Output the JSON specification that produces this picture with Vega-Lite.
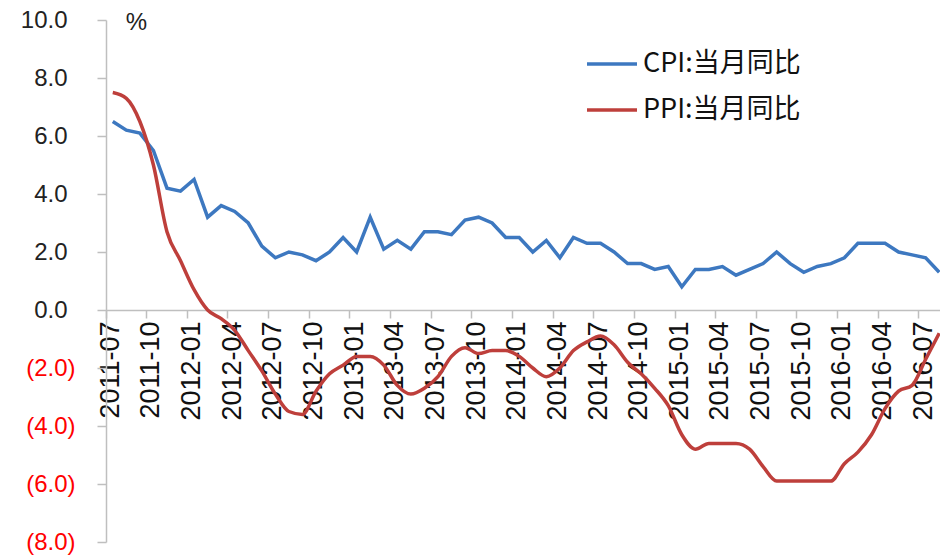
{
  "$schema": "https://vega.github.io/schema/vega-lite/v6.json",
  "autosize": {"type": "none"},
  "padding": {"left": 106, "top": 20, "right": 0, "bottom": 17},
  "width": 834,
  "height": 522,
  "background": "white",
  "config": {"view": {"stroke": null}, "axis": {"grid": false}},
  "data": {"values": [
    {"m":"2011-07","cpi":6.5,"ppi":7.5},{"m":"2011-08","cpi":6.2,"ppi":7.3},{"m":"2011-09","cpi":6.1,"ppi":6.5},{"m":"2011-10","cpi":5.5,"ppi":5.0},{"m":"2011-11","cpi":4.2,"ppi":2.7},{"m":"2011-12","cpi":4.1,"ppi":1.7},
    {"m":"2012-01","cpi":4.5,"ppi":0.7},{"m":"2012-02","cpi":3.2,"ppi":0.0},{"m":"2012-03","cpi":3.6,"ppi":-0.3},{"m":"2012-04","cpi":3.4,"ppi":-0.7},{"m":"2012-05","cpi":3.0,"ppi":-1.4},{"m":"2012-06","cpi":2.2,"ppi":-2.1},
    {"m":"2012-07","cpi":1.8,"ppi":-2.9},{"m":"2012-08","cpi":2.0,"ppi":-3.5},{"m":"2012-09","cpi":1.9,"ppi":-3.6},{"m":"2012-10","cpi":1.7,"ppi":-2.8},{"m":"2012-11","cpi":2.0,"ppi":-2.2},{"m":"2012-12","cpi":2.5,"ppi":-1.9},
    {"m":"2013-01","cpi":2.0,"ppi":-1.6},{"m":"2013-02","cpi":3.2,"ppi":-1.6},{"m":"2013-03","cpi":2.1,"ppi":-1.9},{"m":"2013-04","cpi":2.4,"ppi":-2.6},{"m":"2013-05","cpi":2.1,"ppi":-2.9},{"m":"2013-06","cpi":2.7,"ppi":-2.7},
    {"m":"2013-07","cpi":2.7,"ppi":-2.3},{"m":"2013-08","cpi":2.6,"ppi":-1.6},{"m":"2013-09","cpi":3.1,"ppi":-1.3},{"m":"2013-10","cpi":3.2,"ppi":-1.5},{"m":"2013-11","cpi":3.0,"ppi":-1.4},{"m":"2013-12","cpi":2.5,"ppi":-1.4},
    {"m":"2014-01","cpi":2.5,"ppi":-1.6},{"m":"2014-02","cpi":2.0,"ppi":-2.0},{"m":"2014-03","cpi":2.4,"ppi":-2.3},{"m":"2014-04","cpi":1.8,"ppi":-2.0},{"m":"2014-05","cpi":2.5,"ppi":-1.4},{"m":"2014-06","cpi":2.3,"ppi":-1.1},
    {"m":"2014-07","cpi":2.3,"ppi":-0.9},{"m":"2014-08","cpi":2.0,"ppi":-1.2},{"m":"2014-09","cpi":1.6,"ppi":-1.8},{"m":"2014-10","cpi":1.6,"ppi":-2.2},{"m":"2014-11","cpi":1.4,"ppi":-2.7},{"m":"2014-12","cpi":1.5,"ppi":-3.3},
    {"m":"2015-01","cpi":0.8,"ppi":-4.3},{"m":"2015-02","cpi":1.4,"ppi":-4.8},{"m":"2015-03","cpi":1.4,"ppi":-4.6},{"m":"2015-04","cpi":1.5,"ppi":-4.6},{"m":"2015-05","cpi":1.2,"ppi":-4.6},{"m":"2015-06","cpi":1.4,"ppi":-4.8},
    {"m":"2015-07","cpi":1.6,"ppi":-5.4},{"m":"2015-08","cpi":2.0,"ppi":-5.9},{"m":"2015-09","cpi":1.6,"ppi":-5.9},{"m":"2015-10","cpi":1.3,"ppi":-5.9},{"m":"2015-11","cpi":1.5,"ppi":-5.9},{"m":"2015-12","cpi":1.6,"ppi":-5.9},
    {"m":"2016-01","cpi":1.8,"ppi":-5.3},{"m":"2016-02","cpi":2.3,"ppi":-4.9},{"m":"2016-03","cpi":2.3,"ppi":-4.3},{"m":"2016-04","cpi":2.3,"ppi":-3.4},{"m":"2016-05","cpi":2.0,"ppi":-2.8},{"m":"2016-06","cpi":1.9,"ppi":-2.6},
    {"m":"2016-07","cpi":1.8,"ppi":-1.7},{"m":"2016-08","cpi":1.3,"ppi":-0.8}
  ]},
  "transform": [
    {"fold": ["cpi", "ppi"], "as": ["key", "v"]},
    {"lookup": "key", "from": {"data": {"values": [{"key": "cpi", "s": "CPI:当月同比"}, {"key": "ppi", "s": "PPI:当月同比"}]}, "key": "key", "fields": ["s"]}}
  ],
  "encoding": {
    "x": {
      "field": "m", "type": "ordinal", "sort": null,
      "scale": {"type": "band", "paddingInner": 0, "paddingOuter": 0, "range": [0, 840]},
      "axis": {
        "orient": "bottom", "offset": -232, "title": null,
        "values": ["2011-07","2011-10","2012-01","2012-04","2012-07","2012-10","2013-01","2013-04","2013-07","2013-10","2014-01","2014-04","2014-07","2014-10","2015-01","2015-04","2015-07","2015-10","2016-01","2016-04","2016-07"],
        "bandPosition": 0, "tickSize": 8, "tickColor": "#bfbfbf", "tickWidth": 1.5,
        "domainColor": "#bfbfbf", "domainWidth": 1.5,
        "labelAngle": -90, "labelPadding": 3, "labelOffset": -2, "labelFont": "Liberation Sans", "labelFontSize": 27,
        "labelColor": "#111111", "labelOverlap": false, "labelBound": false, "labelFlush": false
      }
    },
    "y": {
      "field": "v", "type": "quantitative",
      "scale": {"domain": [-8, 10], "nice": false, "zero": false},
      "axis": {
        "values": [-8, -6, -4, -2, 0, 2, 4, 6, 8, 10],
        "tickSize": 9, "tickColor": "#bfbfbf", "tickWidth": 1.5,
        "domainColor": "#bfbfbf", "domainWidth": 1.5,
        "labelPadding": {"condition": {"test": "datum.value < 0", "value": 22}, "value": 30},
        "labelFont": "Liberation Sans", "labelFontSize": 24,
        "labelExpr": "datum.value < 0 ? '(' + format(-datum.value, '.1f') + ')' : format(datum.value, '.1f')",
        "labelColor": {"condition": {"test": "datum.value < 0", "value": "#ff0000"}, "value": "#222222"},
        "title": "%", "titleAngle": 0, "titleX": 30, "titleY": 2, "titleAlign": "center", "titleBaseline": "middle",
        "titleFont": "Liberation Sans", "titleFontSize": 24, "titleFontWeight": "normal", "titleColor": "#222222"
      }
    },
    "color": {
      "field": "s", "type": "nominal",
      "scale": {"domain": ["CPI:当月同比", "PPI:当月同比"], "range": ["#3D78C0", "#BE3F3B"]},
      "legend": {
        "orient": "none", "legendX": 479, "legendY": 17, "direction": "vertical", "title": null,
        "symbolType": "stroke", "symbolSize": 2500, "symbolStrokeWidth": 3.5,
        "labelFont": "Noto Sans CJK SC", "labelFontSize": 27, "labelColor": "#111111",
        "labelOffset": 4, "rowPadding": 6, "padding": 0
      }
    }
  },
  "layer": [
    {"transform": [{"filter": "datum.key === 'cpi'"}], "mark": {"type": "line", "strokeWidth": 3.5}},
    {"transform": [{"filter": "datum.key === 'ppi'"}], "mark": {"type": "line", "strokeWidth": 3.5, "interpolate": "monotone"}}
  ]
}
